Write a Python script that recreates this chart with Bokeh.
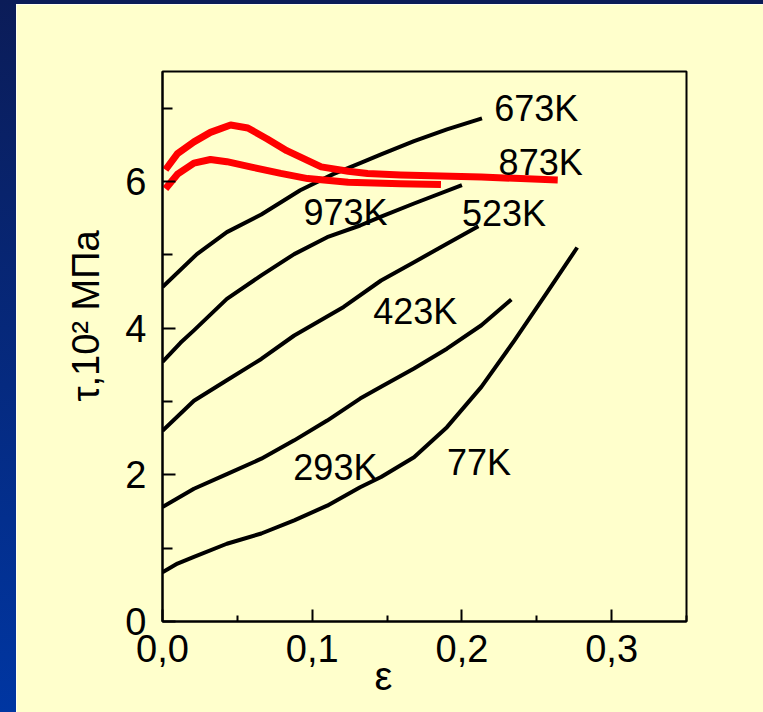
import numpy as np
from bokeh.plotting import figure
from bokeh.models import (Range1d, FixedTicker, CustomJSTickFormatter,
                          Title, Spacer, ColumnDataSource)
from bokeh.layouts import row, column
from bokeh.core.properties import value
from bokeh.embed import file_html
from bokeh.resources import INLINE

FONT = "Liberation Sans"

# ---- data ----
x_77 = [0.0, 0.010, 0.021, 0.043, 0.066, 0.088, 0.110, 0.132, 0.146, 0.168, 0.190, 0.213, 0.235, 0.257, 0.277]
y_77 = [0.67, 0.79, 0.88, 1.06, 1.20, 1.38, 1.58, 1.83, 1.97, 2.24, 2.65, 3.20, 3.83, 4.49, 5.10]

x_293 = [0.0, 0.021, 0.043, 0.066, 0.088, 0.110, 0.132, 0.146, 0.168, 0.190, 0.213, 0.233]
y_293 = [1.56, 1.81, 2.01, 2.22, 2.47, 2.74, 3.04, 3.20, 3.45, 3.72, 4.04, 4.39]

x_423 = [0.0, 0.021, 0.043, 0.066, 0.088, 0.121, 0.146, 0.168, 0.190, 0.211]
y_423 = [2.60, 3.01, 3.29, 3.58, 3.90, 4.29, 4.65, 4.90, 5.15, 5.39]

x_523 = [0.0, 0.012, 0.021, 0.043, 0.066, 0.088, 0.110, 0.132, 0.146, 0.168, 0.200]
y_523 = [3.54, 3.80, 3.97, 4.40, 4.72, 5.01, 5.24, 5.40, 5.52, 5.70, 5.95]

x_673 = [0.0, 0.023, 0.043, 0.066, 0.092, 0.114, 0.132, 0.146, 0.168, 0.190, 0.2134]
y_673 = [4.56, 5.01, 5.31, 5.55, 5.88, 6.10, 6.25, 6.37, 6.55, 6.71, 6.86]

x_873 = [0.002, 0.010, 0.021, 0.032, 0.0455, 0.057, 0.070, 0.083, 0.106, 0.124, 0.137, 0.159, 0.213, 0.264]
y_873 = [6.16, 6.38, 6.54, 6.67, 6.77, 6.73, 6.58, 6.42, 6.20, 6.14, 6.11, 6.09, 6.06, 6.02]

x_973 = [0.002, 0.010, 0.021, 0.032, 0.043, 0.061, 0.079, 0.097, 0.124, 0.159, 0.186]
y_973 = [5.90, 6.10, 6.25, 6.30, 6.27, 6.19, 6.11, 6.04, 5.99, 5.97, 5.96]

label_text = ["673K", "873K", "523K", "973K", "423K", "293K", "77K"]
label_x = [0.2216, 0.2245, 0.200, 0.0941, 0.1407, 0.0874, 0.190]
label_y = [6.99, 6.26, 5.57, 5.58, 4.23, 2.10, 2.17]

x_ticks = [0.0, 0.1, 0.2, 0.3]
x_minor = [0.05, 0.15, 0.25, 0.35]
y_ticks = [0, 2, 4, 6]
y_minor = [1, 3, 5, 7]

x_title = "ε"
y_title = "τ,10² МПа"

# ---- figure ----
BG = "#FFFFCC"
p = figure(width=747, height=708,
           x_range=Range1d(0, 0.35), y_range=Range1d(0, 7.5),
           output_backend="svg", toolbar_location=None,
           min_border_left=146, min_border_right=77,
           min_border_top=67, min_border_bottom=91,
           background_fill_color=BG, border_fill_color=BG)
p.grid.visible = False
p.outline_line_color = "black"
p.outline_line_width = 2

def style_axis(ax, ticks, minor, maj_in, min_in, code, standoff):
    ax.ticker = FixedTicker(ticks=ticks, minor_ticks=minor)
    ax.formatter = CustomJSTickFormatter(code=code)
    ax.axis_line_width = 2
    ax.axis_line_color = "black"
    ax.major_tick_in = maj_in
    ax.major_tick_out = 0
    ax.minor_tick_in = min_in
    ax.minor_tick_out = 0
    ax.major_tick_line_width = 2
    ax.minor_tick_line_width = 2
    ax.major_tick_line_color = "black"
    ax.minor_tick_line_color = "black"
    ax.major_label_text_font = FONT
    ax.major_label_text_font_size = "38px"
    ax.major_label_text_color = "black"
    ax.major_label_standoff = standoff

style_axis(p.xaxis[0], x_ticks, x_minor, 12, 6,
           "return tick.toFixed(1).replace('.', ',');", 13)
style_axis(p.yaxis[0], y_ticks, y_minor, 13, 10,
           "return tick.toFixed(0);", 16)

black_series = [(x_77, y_77), (x_293, y_293), (x_423, y_423), (x_523, y_523), (x_673, y_673)]
for xs, ys in black_series:
    p.line(xs, ys, line_color="black", line_width=4, line_join="round")

for xs, ys in [(x_873, y_873), (x_973, y_973)]:
    p.line(xs, ys, line_color="#FF0000", line_width=7, line_join="round")

src = ColumnDataSource(dict(x=label_x, y=label_y, t=label_text))
p.text(x="x", y="y", text="t", source=src, text_font=value(FONT),
       text_font_size="36px", text_color="black",
       text_align="left", text_baseline="alphabetic")

xt = Title(text=x_title, align="left", offset=212, standoff=-25,
           text_font=FONT, text_font_size="40px", text_font_style="normal",
           text_color="black")
p.add_layout(xt, "below")
yt = Title(text=y_title, align="left", offset=220, standoff=32,
           text_font=FONT, text_font_size="38px", text_font_style="normal",
           text_color="black")
p.add_layout(yt, "left")

left_strip = Spacer(width=16, height=712,
                    styles={"background": "linear-gradient(to bottom, #0b1c58, #0036a2)"})
top_strip = Spacer(width=747, height=4, styles={"background": "#0b1c58"})
layout = row(left_strip, column(top_strip, p))

open("out.html", "w").write(file_html(layout, INLINE))
